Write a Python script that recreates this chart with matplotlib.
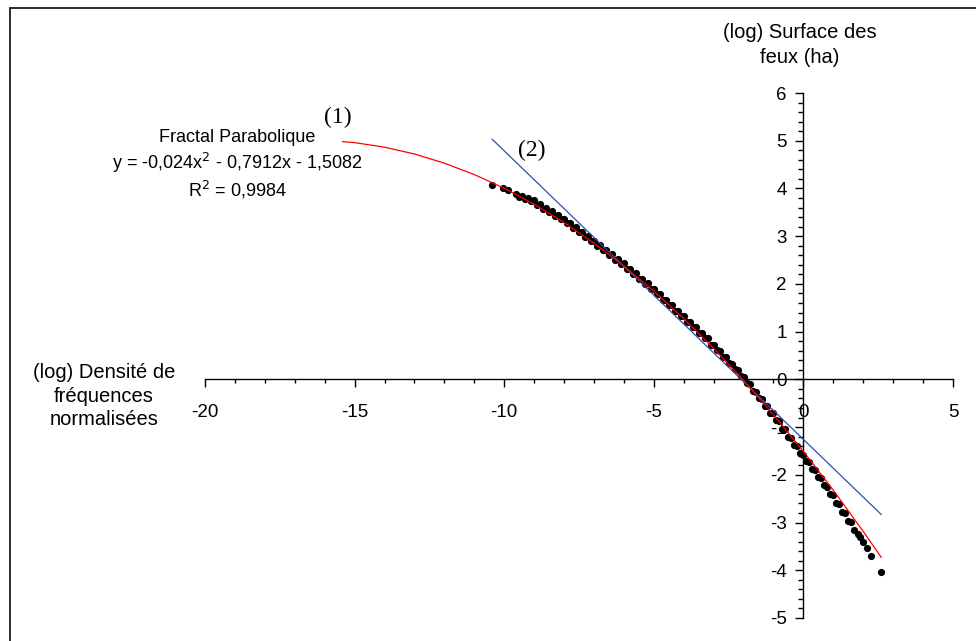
import matplotlib
matplotlib.use('Agg')
import matplotlib.pyplot as plt
from matplotlib.ticker import MultipleLocator
from matplotlib.patches import Rectangle

plt.rcParams['font.family'] = ['Liberation Sans', 'DejaVu Sans']
plt.rcParams['axes.unicode_minus'] = False

# ---------------- data ----------------
# observed points: x = (log) normalised frequency density, y = (log) fire area
obs_x = [-10.40, -10.04, -9.87,
         -9.6, -9.5, -9.4, -9.3, -9.2, -9.1, -9.0, -8.9, -8.8, -8.7, -8.6, -8.5,
         -8.4, -8.3, -8.2, -8.1, -8.0, -7.9, -7.8, -7.7, -7.6, -7.5, -7.4, -7.3,
         -7.2, -7.1, -7.0, -6.9, -6.8, -6.7, -6.6, -6.5, -6.4, -6.3, -6.2, -6.1,
         -6.0, -5.9, -5.8, -5.7, -5.6, -5.5, -5.4, -5.3, -5.2, -5.1, -5.0, -4.9,
         -4.8, -4.7, -4.6, -4.5, -4.4, -4.3, -4.2, -4.1, -4.0, -3.9, -3.8, -3.7,
         -3.6, -3.5, -3.4, -3.3, -3.2, -3.1, -3.0, -2.9, -2.8, -2.7, -2.6, -2.5,
         -2.4, -2.3, -2.2, -2.1, -2.0, -1.9, -1.8, -1.7, -1.6, -1.5, -1.4, -1.3,
         -1.2, -1.1, -1.0, -0.9, -0.8, -0.7, -0.6, -0.5, -0.4, -0.3, -0.2, -0.1,
         0.0, 0.1, 0.2, 0.3, 0.4, 0.5, 0.6, 0.7, 0.8, 0.9, 1.0, 1.1, 1.2, 1.3,
         1.4, 1.5, 1.6, 1.7,
         1.81, 1.90, 2.00, 2.11, 2.27, 2.58]
obs_y = [4.07, 4.00, 3.96,
         3.89, 3.83, 3.85, 3.78, 3.80, 3.74, 3.75, 3.65, 3.68, 3.58, 3.60, 3.50,
         3.53, 3.43, 3.45, 3.35, 3.37, 3.27, 3.28, 3.17, 3.19, 3.09, 3.09, 2.99,
         3.01, 2.89, 2.90, 2.80, 2.81, 2.71, 2.72, 2.61, 2.62, 2.51, 2.52, 2.42,
         2.43, 2.32, 2.32, 2.21, 2.22, 2.11, 2.11, 2.00, 2.01, 1.89, 1.90, 1.78,
         1.79, 1.67, 1.67, 1.56, 1.56, 1.44, 1.44, 1.32, 1.32, 1.20, 1.20, 1.09,
         1.09, 0.98, 0.98, 0.86, 0.86, 0.73, 0.73, 0.61, 0.60, 0.47, 0.47, 0.34,
         0.33, 0.21, 0.20, 0.07, 0.06, -0.08, -0.10, -0.24, -0.26, -0.40, -0.42, -0.55,
         -0.56, -0.70, -0.71, -0.86, -0.88, -1.03, -1.05, -1.20, -1.23, -1.37, -1.40, -1.55,
         -1.58, -1.72, -1.74, -1.88, -1.90, -2.05, -2.07, -2.22, -2.25, -2.40, -2.42, -2.58, -2.61, -2.77,
         -2.80, -2.96, -2.99, -3.15,
         -3.23, -3.31, -3.41, -3.54, -3.71, -4.03]

# (1) parabolic fractal trend line (red)
fit_x = [-15.4, -15, -14, -13, -12, -11, -10, -9, -8, -7, -6, -5, -4, -3, -2, -1,
         0, 1, 2, 2.6]
fit_y = [4.980, 4.960, 4.865, 4.722, 4.530, 4.291, 4.004, 3.669, 3.286, 2.854,
         2.375, 1.848, 1.273, 0.650, -0.022, -0.741, -1.508, -2.323, -3.186, -3.727]

# (2) straight line (blue)
lin_x = [-10.4, 2.6]
lin_y = [5.03, -2.83]

x_ticks = [-20, -15, -10, -5, 0, 5]
y_ticks = [-5, -4, -3, -2, -1, 0, 1, 2, 3, 4, 5, 6]

# ---------------- figure ----------------
W, H = 976, 641
fig = plt.figure(figsize=(W / 100, H / 100), dpi=100)
fig.patch.set_facecolor('white')

# outer frame (only left and top edge visible in the reference)
fig.patches.append(Rectangle((10 / W, -0.2), 1.5, 1 - 8 / H + 0.2,
                             transform=fig.transFigure, fill=False,
                             edgecolor='#1a1a1a', linewidth=1.3, clip_on=False))

ax = fig.add_axes([205 / W, 1 - 618 / H, (953 - 205) / W, (618 - 93) / H])
ax.set_xlim(-20, 5)
ax.set_ylim(-5, 6)
ax.patch.set_alpha(0)

for s in ('top', 'right'):
    ax.spines[s].set_visible(False)
ax.spines['left'].set_position(('data', 0))
ax.spines['bottom'].set_position(('data', 0))
for s in ('left', 'bottom'):
    ax.spines[s].set_linewidth(1.0)
    ax.spines[s].set_color('black')

ax.set_xticks(x_ticks)
ax.set_yticks(y_ticks)
ax.xaxis.set_minor_locator(MultipleLocator(1))
ax.yaxis.set_minor_locator(MultipleLocator(0.2))
ax.tick_params(axis='x', which='major', direction='out', length=6, width=1,
               pad=12, labelsize=13.5)
ax.tick_params(axis='x', which='minor', direction='out', length=3, width=1)
ax.tick_params(axis='y', which='major', direction='out', length=6, width=1,
               pad=6, labelsize=13.5)
ax.tick_params(axis='y', which='minor', direction='out', length=3.5, width=1)

ax.plot(obs_x, obs_y, 'o', color='black', markersize=5.2, markeredgewidth=0,
        zorder=3)
ax.plot(lin_x, lin_y, '-', color='#2e4fae', linewidth=0.9, zorder=4)
ax.plot(fit_x, fit_y, '-', color='#ff0000', linewidth=0.9, zorder=5)

# axis titles
fig.text(800 / W, 1 - 45 / H, '(log) Surface des\nfeux (ha)', ha='center',
         va='center', ma='center', fontsize=14.5, linespacing=1.35)
fig.text(104 / W, 1 - 396 / H, '(log) Densité de\nfréquences\nnormalisées',
         ha='center', va='center', ma='center', fontsize=14.5, linespacing=1.3)

# trend-line equation
fig.text(237 / W, 1 - 137 / H, 'Fractal Parabolique', ha='center', va='center',
         fontsize=13)
fig.text(237 / W, 1 - 163 / H, r'y = -0,024x$^{2}$ - 0,7912x - 1,5082',
         ha='center', va='center', fontsize=13)
fig.text(237 / W, 1 - 190 / H, r'R$^{2}$ = 0,9984', ha='center', va='center',
         fontsize=13)

# curve labels
fig.text(338 / W, 1 - 117 / H, '(1)', ha='center', va='center', fontsize=17,
         family=['Liberation Serif', 'DejaVu Serif'])
fig.text(532 / W, 1 - 150 / H, '(2)', ha='center', va='center', fontsize=17,
         family=['Liberation Serif', 'DejaVu Serif'])

fig.savefig('out.png', dpi=100)
